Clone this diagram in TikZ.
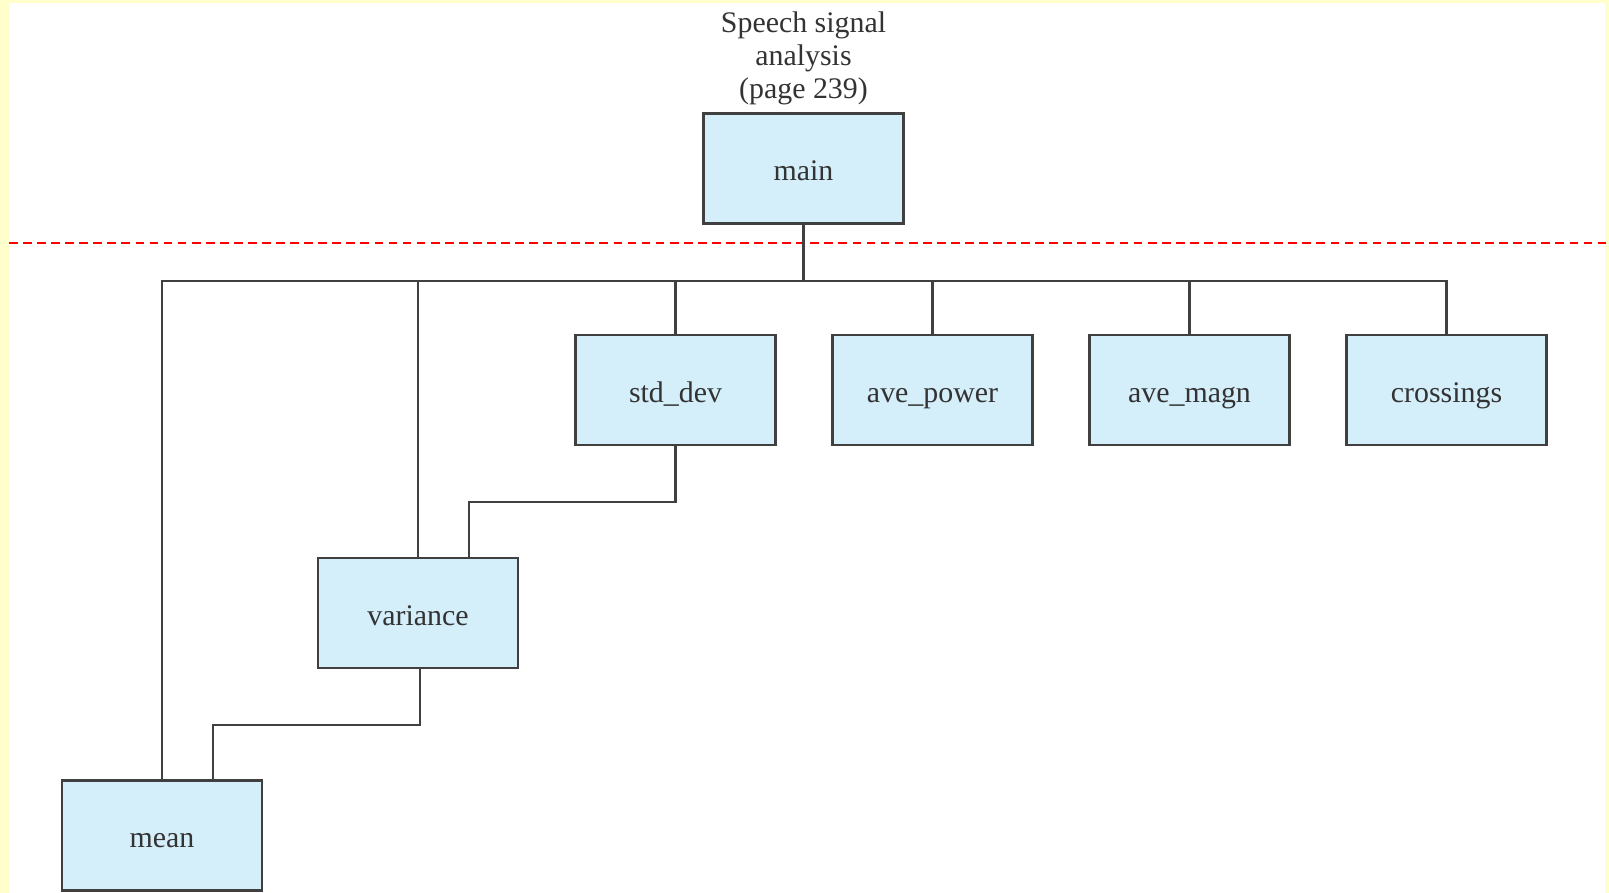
\documentclass[tikz,border=0pt]{standalone}
\usepackage{fontspec}
\setmainfont{Liberation Serif}
\usetikzlibrary{positioning,calc}
\definecolor{boxblue}{RGB}{212,238,250}
\definecolor{framey}{RGB}{255,255,204}
\definecolor{linegray}{RGB}{64,64,64}

\begin{document}
\begin{tikzpicture}[
  every node/.style = {font=\fontsize{8.5}{9.4}\selectfont, text=black!80},
  func/.style = {draw=linegray, fill=boxblue, line width=0.8pt,
                 minimum width=2.0cm, minimum height=1.1cm, inner sep=2pt,
                 text height=1.6ex, text depth=0.1ex},
  link/.style = {draw=linegray, line width=0.6pt},
]

%% ── Frame ────────────────────────────────────────────────────────────────────
\useasboundingbox (0,0) rectangle (16.09,-8.93);
\fill[framey] (0,0) rectangle (16.09,-8.93);
\fill[white] (0.09,-0.03) rectangle (16.05,-8.93);

%% ── Column / row positions ───────────────────────────────────────────────────
\def\cA{1.62}   % mean
\def\cB{4.18}   % variance
\def\cC{6.755}  % std_dev
\def\cD{9.325}  % ave_power
\def\cE{11.895} % ave_magn
\def\cF{14.465} % crossings
\def\rA{-1.685}
\def\rB{-3.90}
\def\rC{-6.13}
\def\rD{-8.355}

%% ── Top level ────────────────────────────────────────────────────────────────
\node[func] (main) at (8.035, \rA) {main};
\node[align=center] (title) at (8.035, -0.585) {Speech signal\\analysis\\(page 239)};

%% ── Boundary line ────────────────────────────────────────────────────────────
\draw[red, line width=0.6pt, dash pattern=on 2.5pt off 1.5pt] (0.09,-2.43) -- (16.09,-2.43);

%% ── Called functions ─────────────────────────────────────────────────────────
\node[func] (stddev)    at (\cC, \rB) {std\_dev};
\node[func] (avepower)  at (\cD, \rB) {ave\_power};
\node[func] (avemagn)   at (\cE, \rB) {ave\_magn};
\node[func] (crossings) at (\cF, \rB) {crossings};
\node[func] (variance)  at (\cB, \rC) {variance};
\node[func] (mean)      at (\cA, \rD) {mean};

%% ── Connectors ───────────────────────────────────────────────────────────────
\draw[link] (main.south) -- ++(0,-0.56) coordinate (bus);
\foreach \n in {mean,variance,stddev,avepower,avemagn,crossings}
  \draw[link] (\n.north) |- (bus);

\draw[link] (stddev.south) -- ++(0,-0.555)
  -| ($(variance.north)!0.5!(variance.north east)$);
\draw[link] ([xshift=0.02cm]variance.south) -- ++(0,-0.555)
  -| ($(mean.north)!0.5!(mean.north east)$);

\end{tikzpicture}
\end{document}
